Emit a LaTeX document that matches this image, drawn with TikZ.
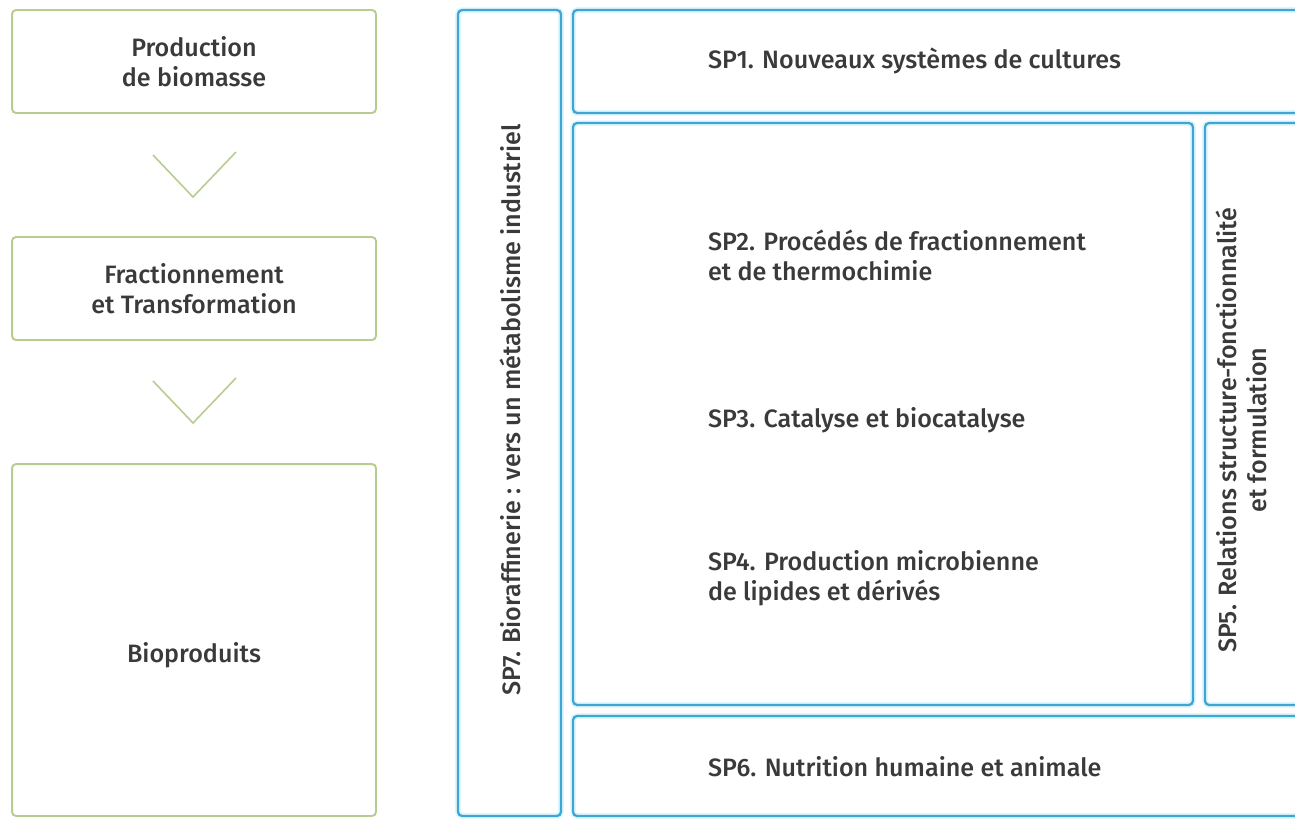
\documentclass[tikz,border=0pt]{standalone}
\usepackage{fontspec}
\setmainfont{Fira Sans Medium}
\definecolor{leaf}{RGB}{182,204,145}
\definecolor{sky}{RGB}{62,166,212}
\definecolor{ink}{RGB}{58,58,58}

\begin{document}
\begin{tikzpicture}
  [x=0.02cm,y=-0.02cm,
    every node/.style={inner sep=0pt,outer sep=0pt,text=ink,
      font=\fontsize{14.3}{17}\selectfont},
    stagebox/.style={draw=leaf,line width=1.1pt,rounded corners=0.08cm,
      minimum width=7.28cm},
    spbox/.style={draw=sky,line width=1.3pt,rounded corners=0.08cm,
      preaction={draw=cyan!12,line width=3.2pt}},
    chev/.style={draw=leaf,line width=0.9pt},
    txt/.style={align=left,anchor=west},
  ]
  \useasboundingbox (0,0) rectangle (1295,819);

  % left column: the chain
  \node[stagebox,minimum height=2.06cm,align=center] (prod) at (194,61.5)
    {Production\\de biomasse};
  \node[stagebox,minimum height=2.06cm,align=center] (fract) at (194,288.5)
    {Fractionnement\\et Transformation};
  \node[stagebox,minimum height=7.04cm] (bio) at (194,640) {};
  \node (biotxt) at (194,655) {Bioproduits};

  \coordinate (v1) at (193,197);
  \coordinate (v2) at (193,423);
  \draw[chev] (v1) ++(-40,-42) -- (v1) -- ++(43,-45);
  \draw[chev] (v2) ++(-40,-42) -- (v2) -- ++(43,-45);

  % right part: sub-projects
  \node[spbox,minimum width=2.06cm,minimum height=16.12cm] (sp7) at (509.5,413) {};
  \node[spbox,minimum width=14.64cm,minimum height=2.06cm] (sp1) at (939,61.5) {};
  \node[spbox,minimum width=12.4cm,minimum height=11.64cm] (core) at (883,414) {};
  \node[spbox,minimum width=2cm,minimum height=11.64cm] (sp5) at (1255,414) {};
  \node[spbox,minimum width=14.64cm,minimum height=2cm] (sp6) at (939,766) {};

  \node[rotate=90] (sp7txt) at (510,410)
    {SP7. Bioraffinerie : vers un métabolisme industriel};
  \node[txt] (sp1txt) at (708,61) {SP1. Nouveaux systèmes de cultures};
  \node[txt] (sp2txt) at (708,255)
    {SP2. Procédés de fractionnement\\et de thermochimie};
  \node[txt] (sp3txt) at (708,420) {SP3. Catalyse et biocatalyse};
  \node[txt] (sp4txt) at (708,578)
    {SP4. Production microbienne\\de lipides et dérivés};
  \node[rotate=90,align=center] (sp5txt) at (1241,430)
    {SP5. Relations structure-fonctionnalité\\et formulation};
  \node[txt] (sp6txt) at (708,767) {SP6. Nutrition humaine et animale};
\end{tikzpicture}
\end{document}
